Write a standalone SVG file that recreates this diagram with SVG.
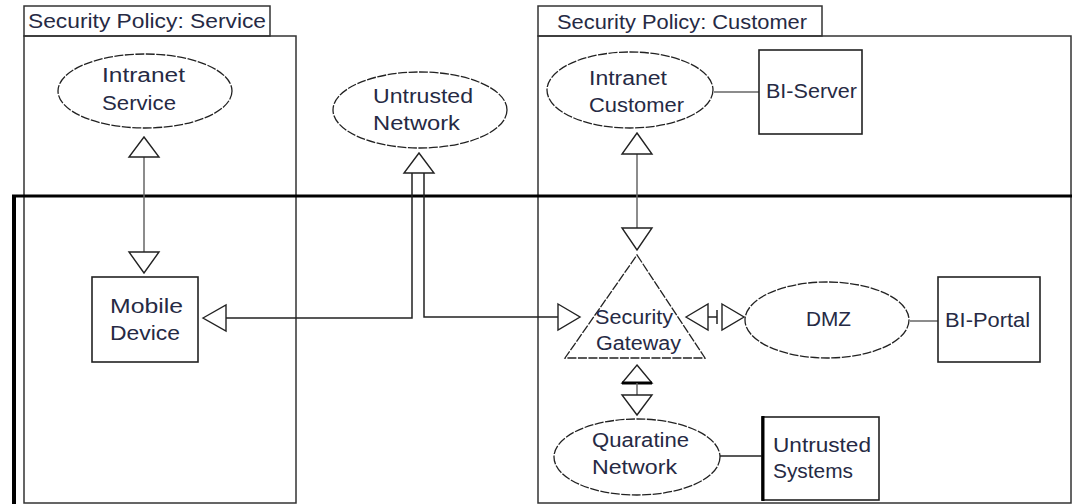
<svg xmlns="http://www.w3.org/2000/svg" width="1072" height="504" viewBox="0 0 1072 504">
  <style>
    .pkg { fill: none; stroke: #333; stroke-width: 1.5; }
    .frame { stroke: #000; fill: none; }
    .lbl { font-family: "Liberation Sans", Arial, sans-serif; font-size: 19.5px; fill: #262a44; }
    .ell { fill: #fff; stroke: #222; stroke-width: 1.3; stroke-dasharray: 9 1.5; }
    .box { fill: #fff; stroke: #222; stroke-width: 1.6; }
    .wire { fill: none; stroke: #222; stroke-width: 1.5; }
    .gwire { fill: none; stroke: #666; stroke-width: 1.5; }
    .head { fill: #fff; stroke: #222; stroke-width: 1.4; stroke-linejoin: miter; }
    .tri { fill: #fff; stroke: #222; stroke-width: 1.3; stroke-dasharray: 9 1.5; }
  </style>

  <rect width="1072" height="504" fill="#fff"/>

  <!-- policy packages -->
  <g id="pkg-service">
    <rect class="pkg" x="24" y="6" width="246" height="30"/>
    <rect class="pkg" x="24" y="36" width="272" height="467"/>
    <text class="lbl" x="28" y="28" textLength="238" lengthAdjust="spacingAndGlyphs">Security Policy: Service</text>
  </g>
  <g id="pkg-customer">
    <rect class="pkg" x="538" y="6" width="284" height="30"/>
    <rect class="pkg" x="538" y="36" width="533" height="467"/>
    <text class="lbl" x="557" y="29" textLength="250" lengthAdjust="spacingAndGlyphs">Security Policy: Customer</text>
  </g>

  <!-- outer frame -->
  <g id="frame">
    <line class="frame" x1="12" y1="196" x2="1072" y2="196" stroke-width="3"/>
    <line class="frame" x1="14" y1="195" x2="14" y2="504" stroke-width="4"/>
  </g>

  <!-- connectors -->
  <g id="connectors">
    <!-- Intranet Service / Mobile Device -->
    <line class="gwire" x1="144" y1="157" x2="144" y2="252"/>
    <polygon class="head" points="144,137 159,157 129,157"/>
    <polygon class="head" points="129,252 159,252 144,273"/>

    <!-- Untrusted Network double link -->
    <polyline class="wire" points="412,173 412,318 226,318"/>
    <polyline class="wire" points="424,173 424,317 558,317"/>
    <polygon class="head" points="419,153 434,173 404,173"/>
    <polygon class="head" points="203,318 226,305 226,331"/>
    <polygon class="head" points="558,304 580,317 558,330"/>

    <!-- Intranet Customer / Security Gateway -->
    <line class="gwire" x1="637" y1="154" x2="637" y2="228"/>
    <polygon class="head" points="637,133 652,154 622,154"/>
    <polygon class="head" points="622,228 652,228 637,250"/>

    <!-- Intranet Customer / BI-Server -->
    <line class="gwire" x1="714" y1="92" x2="759" y2="92"/>

    <!-- Security Gateway / DMZ -->
    <polygon class="head" points="686,317 708,304 708,330"/>
    <line class="wire" x1="708" y1="317" x2="717" y2="317"/>
    <line class="wire" x1="717" y1="310" x2="717" y2="324"/>
    <polygon class="head" points="722,304 744,317 722,330"/>

    <!-- DMZ / BI-Portal -->
    <line class="gwire" x1="910" y1="321" x2="938" y2="321"/>

    <!-- Security Gateway / Quaratine Network -->
    <polygon class="head" points="637,365 652,383 622,383"/>
    <line x1="622" y1="383" x2="652" y2="383" stroke="#000" stroke-width="3"/>
    <line class="gwire" x1="637" y1="383" x2="637" y2="395"/>
    <polygon class="head" points="622,395 652,395 637,415"/>

    <!-- Quaratine Network / Untrusted Systems -->
    <line class="wire" x1="720" y1="456" x2="762" y2="456"/>
  </g>

  <!-- nodes -->
  <g id="intranet-service">
    <ellipse class="ell" cx="145" cy="91" rx="87" ry="37"/>
    <text class="lbl" x="102" y="82" textLength="83" lengthAdjust="spacingAndGlyphs">Intranet</text>
    <text class="lbl" x="102" y="110" textLength="74" lengthAdjust="spacingAndGlyphs">Service</text>
  </g>

  <g id="untrusted-network">
    <ellipse class="ell" cx="420" cy="110" rx="87" ry="38"/>
    <text class="lbl" x="373" y="103" textLength="100" lengthAdjust="spacingAndGlyphs">Untrusted</text>
    <text class="lbl" x="373" y="130" textLength="87" lengthAdjust="spacingAndGlyphs">Network</text>
  </g>

  <g id="intranet-customer">
    <ellipse class="ell" cx="630" cy="90" rx="83" ry="38"/>
    <text class="lbl" x="589" y="85" textLength="78" lengthAdjust="spacingAndGlyphs">Intranet</text>
    <text class="lbl" x="589" y="112" textLength="95" lengthAdjust="spacingAndGlyphs">Customer</text>
  </g>

  <g id="bi-server">
    <rect class="box" x="759" y="50" width="103" height="84"/>
    <text class="lbl" x="766" y="98" textLength="91" lengthAdjust="spacingAndGlyphs">BI-Server</text>
  </g>

  <g id="mobile-device">
    <rect class="box" x="92" y="277" width="106" height="85"/>
    <text class="lbl" x="110" y="313" textLength="73" lengthAdjust="spacingAndGlyphs">Mobile</text>
    <text class="lbl" x="110" y="340" textLength="70" lengthAdjust="spacingAndGlyphs">Device</text>
  </g>

  <g id="security-gateway">
    <polygon class="tri" points="637,255 705,358 565,358"/>
    <text class="lbl" x="595" y="324" textLength="78" lengthAdjust="spacingAndGlyphs">Security</text>
    <text class="lbl" x="596" y="350" textLength="85" lengthAdjust="spacingAndGlyphs">Gateway</text>
  </g>

  <g id="dmz">
    <ellipse class="ell" cx="827" cy="320" rx="82" ry="38"/>
    <text class="lbl" x="806" y="326" textLength="45" lengthAdjust="spacingAndGlyphs">DMZ</text>
  </g>

  <g id="bi-portal">
    <rect class="box" x="938" y="277" width="102" height="85"/>
    <text class="lbl" x="945" y="327" textLength="85" lengthAdjust="spacingAndGlyphs">BI-Portal</text>
  </g>

  <g id="quaratine-network">
    <ellipse class="ell" cx="637" cy="457" rx="83" ry="38"/>
    <text class="lbl" x="592" y="447" textLength="97" lengthAdjust="spacingAndGlyphs">Quaratine</text>
    <text class="lbl" x="592" y="474" textLength="85" lengthAdjust="spacingAndGlyphs">Network</text>
  </g>

  <g id="untrusted-systems">
    <rect class="box" x="762" y="417" width="117" height="83"/>
    <line x1="763" y1="416" x2="763" y2="501" stroke="#000" stroke-width="3"/>
    <text class="lbl" x="773" y="452" textLength="98" lengthAdjust="spacingAndGlyphs">Untrusted</text>
    <text class="lbl" x="773" y="478" textLength="80" lengthAdjust="spacingAndGlyphs">Systems</text>
  </g>
</svg>
